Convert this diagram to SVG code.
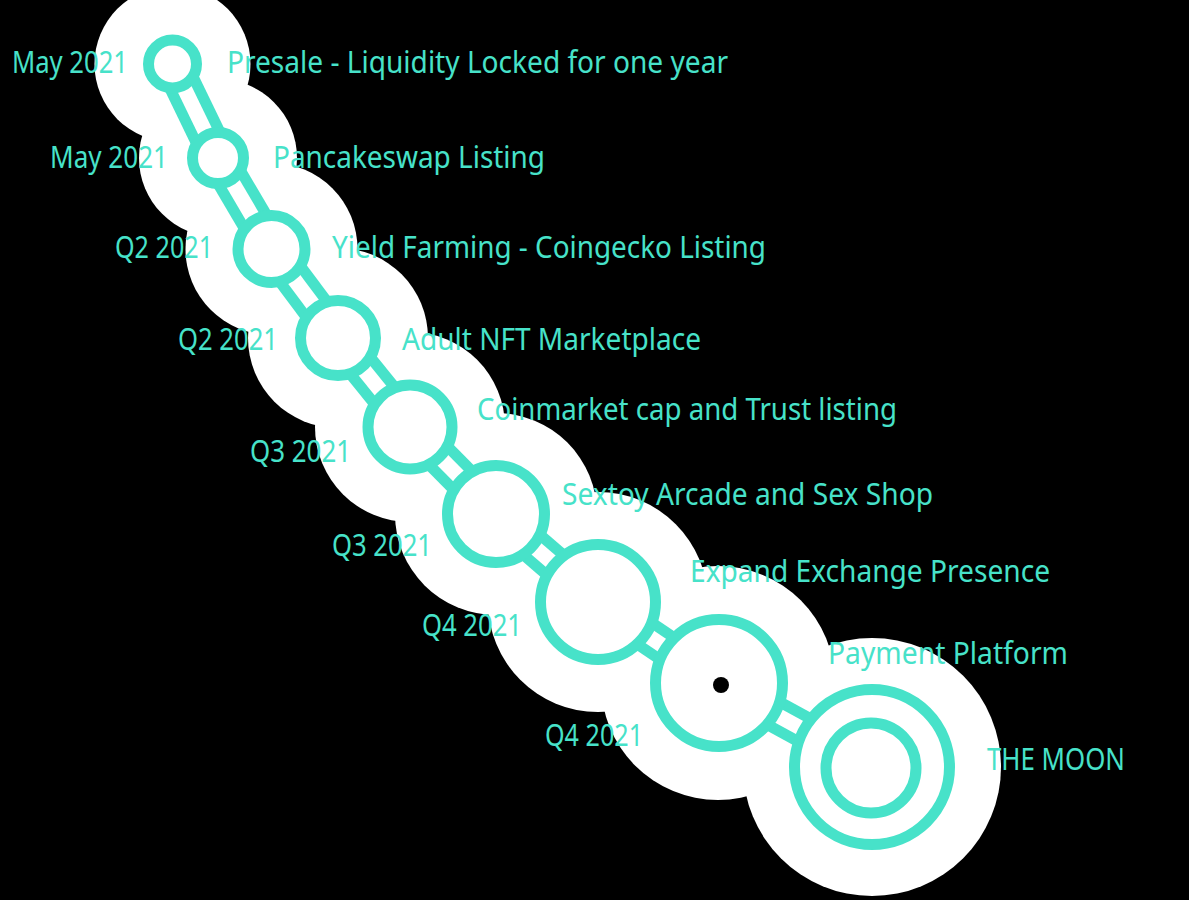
<svg xmlns="http://www.w3.org/2000/svg" width="1189" height="900" viewBox="0 0 1189 900">
  <style>
    .glow { fill: #ffffff; }
    .node { fill: #ffffff; stroke: #47E2C9; stroke-width: 11; }
    .link-outer { stroke: #47E2C9; stroke-width: 37; stroke-linecap: butt; fill: none; }
    .link-inner { stroke: #ffffff; stroke-width: 15; stroke-linecap: butt; fill: none; }
    .lbl { fill: #47E2C9; font-family: "Noto Sans", "Open Sans", sans-serif; font-size: 31px; }
  </style>
  <rect x="0" y="0" width="1189" height="900" fill="#000000"/>

  <g id="glow">
    <circle class="glow" cx="172.5" cy="64" r="78"/>
    <circle class="glow" cx="218" cy="158" r="79"/>
    <circle class="glow" cx="271.5" cy="249" r="86"/>
    <circle class="glow" cx="338" cy="338" r="90"/>
    <circle class="glow" cx="410" cy="427" r="95"/>
    <circle class="glow" cx="496" cy="514" r="101"/>
    <circle class="glow" cx="598" cy="602" r="110"/>
    <circle class="glow" cx="718" cy="683" r="117"/>
    <circle class="glow" cx="872" cy="767" r="129"/>
  </g>

  <g id="connectors">
    <line class="link-outer" x1="172.5" y1="64" x2="218" y2="158"/>
    <line class="link-outer" x1="218" y1="158" x2="271.5" y2="249"/>
    <line class="link-outer" x1="271.5" y1="249" x2="338" y2="338"/>
    <line class="link-outer" x1="338" y1="338" x2="410" y2="427"/>
    <line class="link-outer" x1="410" y1="427" x2="496" y2="514"/>
    <line class="link-outer" x1="496" y1="514" x2="598" y2="602"/>
    <line class="link-outer" x1="598" y1="602" x2="718" y2="683"/>
    <line class="link-outer" x1="718" y1="683" x2="872" y2="767"/>
    <line class="link-inner" x1="172.5" y1="64" x2="218" y2="158"/>
    <line class="link-inner" x1="218" y1="158" x2="271.5" y2="249"/>
    <line class="link-inner" x1="271.5" y1="249" x2="338" y2="338"/>
    <line class="link-inner" x1="338" y1="338" x2="410" y2="427"/>
    <line class="link-inner" x1="410" y1="427" x2="496" y2="514"/>
    <line class="link-inner" x1="496" y1="514" x2="598" y2="602"/>
    <line class="link-inner" x1="598" y1="602" x2="718" y2="683"/>
    <line class="link-inner" x1="718" y1="683" x2="872" y2="767"/>
  </g>

  <g id="node1">
    <circle class="node" cx="172.5" cy="64" r="24"/>
    <text class="lbl" x="12" y="73" textLength="116" lengthAdjust="spacingAndGlyphs">May 2021</text>
    <text class="lbl" x="227" y="73" textLength="501" lengthAdjust="spacingAndGlyphs">Presale - Liquidity Locked for one year</text>
  </g>
  <g id="node2">
    <circle class="node" cx="218" cy="158" r="25.5"/>
    <text class="lbl" x="50" y="168" textLength="118" lengthAdjust="spacingAndGlyphs">May 2021</text>
    <text class="lbl" x="273" y="168" textLength="272" lengthAdjust="spacingAndGlyphs">Pancakeswap Listing</text>
  </g>
  <g id="node3">
    <circle class="node" cx="271.5" cy="249" r="33.5"/>
    <text class="lbl" x="115" y="258" textLength="98" lengthAdjust="spacingAndGlyphs">Q2 2021</text>
    <text class="lbl" x="332" y="258" textLength="434" lengthAdjust="spacingAndGlyphs">Yield Farming - Coingecko Listing</text>
  </g>
  <g id="node4">
    <circle class="node" cx="338" cy="338" r="37.5"/>
    <text class="lbl" x="178" y="350" textLength="100" lengthAdjust="spacingAndGlyphs">Q2 2021</text>
    <text class="lbl" x="402" y="350" textLength="299" lengthAdjust="spacingAndGlyphs">Adult NFT Marketplace</text>
  </g>
  <g id="node5">
    <circle class="node" cx="410" cy="427" r="42"/>
    <text class="lbl" x="250" y="462" textLength="101" lengthAdjust="spacingAndGlyphs">Q3 2021</text>
    <text class="lbl" x="477" y="420" textLength="420" lengthAdjust="spacingAndGlyphs">Coinmarket cap and Trust listing</text>
  </g>
  <g id="node6">
    <circle class="node" cx="496" cy="514" r="48.5"/>
    <text class="lbl" x="332" y="556" textLength="100" lengthAdjust="spacingAndGlyphs">Q3 2021</text>
    <text class="lbl" x="562" y="505" textLength="371" lengthAdjust="spacingAndGlyphs">Sextoy Arcade and Sex Shop</text>
  </g>
  <g id="node7">
    <circle class="node" cx="598" cy="602" r="57.5"/>
    <text class="lbl" x="422" y="636" textLength="100" lengthAdjust="spacingAndGlyphs">Q4 2021</text>
    <text class="lbl" x="690" y="582" textLength="360" lengthAdjust="spacingAndGlyphs">Expand Exchange Presence</text>
  </g>
  <g id="node8">
    <circle class="node" cx="719" cy="683" r="63.5"/>
    <circle cx="721" cy="685" r="8" fill="#000000"/>
    <text class="lbl" x="545" y="746" textLength="98" lengthAdjust="spacingAndGlyphs">Q4 2021</text>
    <text class="lbl" x="828" y="664" textLength="240" lengthAdjust="spacingAndGlyphs">Payment Platform</text>
  </g>
  <g id="node9">
    <circle class="node" cx="872" cy="767" r="77.5"/>
    <circle class="node" cx="871" cy="768" r="45"/>
    <text class="lbl" x="987" y="770" textLength="138" lengthAdjust="spacingAndGlyphs">THE MOON</text>
  </g>
</svg>
